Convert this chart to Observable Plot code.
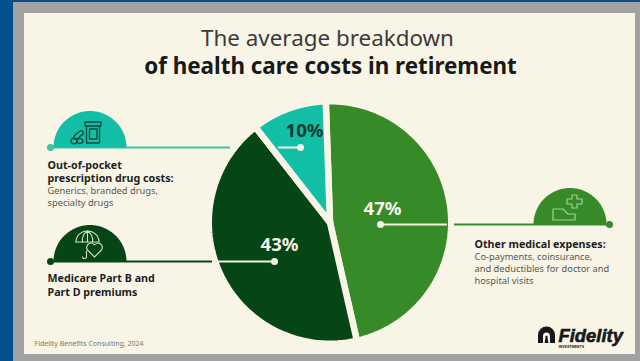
<!DOCTYPE html>
<html>
<head>
<meta charset="utf-8">
<script src="https://cdn.jsdelivr.net/npm/d3@7"></script>
<script src="https://cdn.jsdelivr.net/npm/@observablehq/plot@0.6"></script>
<style>
  html, body { margin: 0; padding: 0; background: #04508c; }
  svg { display: block; }
</style>
</head>
<body>
<div id="chart"></div>
<script>
// Share of retirement health care costs, clockwise from the top of the pie.
const categories = ["Other medical expenses", "Medicare Part B and Part D premiums", "Out-of-pocket prescription drug costs"];
const shares = [47, 43, 10];
const sliceColors = ["#378a28", "#054516", "#12bfa6"];
const lineColors = ["#378a28", "#054516", "#3cc4a4"];

const titleLines = ["The average breakdown", "of health care costs in retirement"];
const drugLines = ["Out-of-pocket", "prescription drug costs:", "Generics, branded drugs,", "specialty drugs"];
const medicareLines = ["Medicare Part B and", "Part D premiums"];
const otherLines = ["Other medical expenses:", "Co-payments, coinsurance,", "and deductibles for doctor and", "hospital visits"];
const source = "Fidelity Benefits Consulting, 2024";

// Layout, in the pixel units of the x and y scales.
const W = 640, H = 361;
const cx = 329.5, cy = 222, R = 118, gap = 6.5, startDeg = -2;
const CREAM = "#f8f5e6", INK = "#1d1f1f", GREY = "#55584f";
const FONT = "'Noto Sans', sans-serif";
const LOGO_FONT = "'Liberation Sans', sans-serif";

// Walk the shares round the circle to get each slice's outline.
const arcPoints = (x0, y0, r, a0, a1, steps) =>
  d3.range(steps + 1).map(i => {
    const a = (a0 + (a1 - a0) * i / steps) * Math.PI / 180;
    return {x: x0 + r * Math.sin(a), y: y0 - r * Math.cos(a)};
  });

let acc = startDeg;
const slices = categories.flatMap((name, i) => {
  const a0 = acc, a1 = acc + shares[i] * 3.6;
  acc = a1;
  const rim = arcPoints(cx, cy, R + gap / 2, a0, a1, 120);
  return [{x: cx, y: cy}, ...rim, {x: cx, y: cy}].map(p => ({...p, name, color: sliceColors[i]}));
});

// Half-disc badges that sit on each leader line.
const dome = (x0, y0, r, color) =>
  arcPoints(x0, y0, r, -90, 90, 60).map(p => ({...p, color, key: color}));
const domes = [
  ...dome(89.5, 147, 36.5, sliceColors[2]),
  ...dome(89.5, 261, 36.5, sliceColors[1]),
  ...dome(569.5, 224, 36.5, sliceColors[0])
];

// Leader lines: the coloured run outside the pie and the pale run inside it.
const leaders = [
  {x1: 50, x2: 230, y: 147, color: lineColors[2]},
  {x1: 50, x2: 212, y: 261, color: lineColors[1]},
  {x1: 454, x2: 609, y: 224, color: lineColors[0]}
];
const innerLeaders = [
  {x1: 278, x2: 300, y: 147, dot: 300},
  {x1: 212, x2: 274, y: 261, dot: 274},
  {x1: 380, x2: 447, y: 224, dot: 380}
];
const endDots = [
  {x: 50, y: 147, color: lineColors[2]},
  {x: 50, y: 261, color: lineColors[1]},
  {x: 609, y: 224, color: lineColors[0]}
];

const percentLabels = [
  {x: 382, y: 209, text: shares[0] + "%", color: "#f6f6ea"},
  {x: 279, y: 245, text: shares[1] + "%", color: "#f6f6ea"},
  {x: 304, y: 131, text: shares[2] + "%", color: "#0e3a33"}
];

const textRows = [
  {x: 47, y: 169, text: drugLines[0], bold: true},
  {x: 47, y: 182.5, text: drugLines[1], bold: true},
  {x: 47, y: 195.5, text: drugLines[2]},
  {x: 47, y: 207.5, text: drugLines[3]},
  {x: 47, y: 282, text: medicareLines[0], bold: true},
  {x: 47, y: 296, text: medicareLines[1], bold: true},
  {x: 474, y: 248, text: otherLines[0], bold: true},
  {x: 474, y: 261.5, text: otherLines[1]},
  {x: 474, y: 273, text: otherLines[2]},
  {x: 474, y: 285, text: otherLines[3]}
];

// Line-art pictograms and the small logo emblem, placed through the scales.
const pictograms = (index, {x, y}) => {
  const g = d3.create("svg:g").attr("fill", "none").attr("stroke-linecap", "round").attr("stroke-linejoin", "round");
  const put = (px, py, color, width, paths) => {
    const s = g.append("g").attr("transform", `translate(${x(px)},${y(py)})`)
      .attr("stroke", color).attr("stroke-width", width);
    paths.forEach(d => s.append("path").attr("d", d));
  };
  // jar and pills
  put(84, 120, "#0d4a42", 1.3, [
    "M1 2h16v4h-16z",
    "M2.5 6v17h13v-17",
    "M5.5 9h7.5v10h-7.5z",
    "M-7 21a3 2.4 0 0 1 6 0a3 2.4 0 0 1-6 0z M-13 21a2.6 2.4 0 0 1 6 0a2.6 2.4 0 0 1-6 0",
    "M-10 16l6-5a2.2 2.2 0 0 1 3 3l-6 5a2.2 2.2 0 0 1-3-3z"
  ]);
  // umbrella over a heart
  put(87.5, 230, "#cfe3c2", 1.1, [
    "M-11.5 12a11.5 11 0 0 1 23 0",
    "M-11.5 12h23",
    "M0 1v11 M-5 12q-1-7 5-11q6 4 5 11",
    "M7 27l-7-7a3.8 3.8 0 0 1 7-5a3.8 3.8 0 0 1 7 5z",
    "M-1 21v5a2 2 0 0 1-4 1"
  ]);
  // cross above a covered patient shape
  put(554, 194, "#a2d096", 1.2, [
    "M18 1h5v4h5v5h-5v4h-5v-4h-5v-5h5z",
    "M-1 15h10l5 5h7v6h-22z"
  ]);
  // emblem beside the wordmark
  const e = g.append("g").attr("transform", `translate(${x(546.5)},${y(335)})`);
  e.append("path").attr("d", "M-8.5 8v-8a8.5 8.5 0 0 1 17 0v8h-5v-7a3.5 3.5 0 0 0-7 0v7z").attr("fill", "#16181a");
  e.append("path").attr("d", "M-2 8l1-5a1.3 1.3 0 1 1 2 0l1 5z").attr("fill", "#16181a");
  return g.node();
};

const chart = Plot.plot({
  width: W,
  height: H,
  margin: 0,
  x: {domain: [0, W], range: [0, W], axis: null},
  y: {domain: [0, H], range: [0, H], axis: null},
  style: {background: "#04508c", fontFamily: FONT},
  marks: [
    // Card and its grey mat
    Plot.rect([{x1: 13, x2: 640, y1: 2, y2: 361}], {x1: "x1", x2: "x2", y1: "y1", y2: "y2", fill: "#a2a2a2"}),
    Plot.rect([{x1: 24, x2: 635, y1: 13, y2: 354}], {x1: "x1", x2: "x2", y1: "y1", y2: "y2", fill: CREAM}),

    // Pie
    Plot.line(slices, {x: "x", y: "y", z: "name", fill: "color", stroke: CREAM, strokeWidth: gap, strokeLinejoin: "round"}),

    // Leaders and badges
    Plot.ruleY(leaders, {x1: "x1", x2: "x2", y: "y", stroke: "color", strokeWidth: 2}),
    Plot.ruleY(innerLeaders, {x1: "x1", x2: "x2", y: "y", stroke: "#eef3e2", strokeWidth: 2}),
    Plot.line(domes, {x: "x", y: "y", z: "key", fill: "color", stroke: "none"}),
    Plot.dot(endDots, {x: "x", y: "y", r: 3.5, fill: "color"}),
    Plot.dot(innerLeaders, {x: "dot", y: "y", r: 3.5, fill: "#f4f6ea"}),
    pictograms,

    // Title
    Plot.text([titleLines[0]], {x: () => 327, y: () => 45, text: d => d, fontSize: 22.4, fill: "#3a3c3c", fontWeight: 400, textAnchor: "middle", lineAnchor: "bottom", dy: 0}),
    Plot.text([titleLines[1]], {x: () => 330, y: () => 73, text: d => d, fontSize: 22.4, fill: "#17191a", fontWeight: 700, textAnchor: "middle", lineAnchor: "bottom", dy: 0}),

    // Percent labels
    Plot.text(percentLabels, {x: "x", y: "y", text: "text", fill: "color", fontSize: 18.5, fontWeight: 700, textAnchor: "middle", lineAnchor: "middle"}),

    // Category descriptions
    Plot.text(textRows.filter(d => d.bold), {x: "x", y: "y", text: "text", fill: INK, fontSize: 10.7, fontWeight: 700, textAnchor: "start", lineAnchor: "bottom", dy: -1}),
    Plot.text(textRows.filter(d => !d.bold), {x: "x", y: "y", text: "text", fill: GREY, fontSize: 9.3, textAnchor: "start", lineAnchor: "bottom", dy: -2}),

    // Source and wordmark
    Plot.text([source], {x: () => 34, y: () => 345, text: d => d, fill: "#77796f", fontSize: 7, textAnchor: "start", lineAnchor: "bottom", dy: 0}),
    Plot.text(["Fidelity"], {x: () => 558, y: () => 341, text: d => d, fill: "#16181a", stroke: "#16181a", strokeWidth: 0.6, fontSize: 18.4, fontWeight: 700, fontStyle: "italic", fontFamily: LOGO_FONT, textAnchor: "start", lineAnchor: "bottom", dy: 0}),
    Plot.text(["INVESTMENTS"], {x: () => 558, y: () => 347, text: d => d, fill: "#16181a", fontSize: 3.6, fontWeight: 700, fontFamily: LOGO_FONT, textAnchor: "start", lineAnchor: "bottom", dy: 0, style: {letterSpacing: "2px"}})
  ]
});
document.getElementById("chart").append(chart);
</script>
</body>
</html>
